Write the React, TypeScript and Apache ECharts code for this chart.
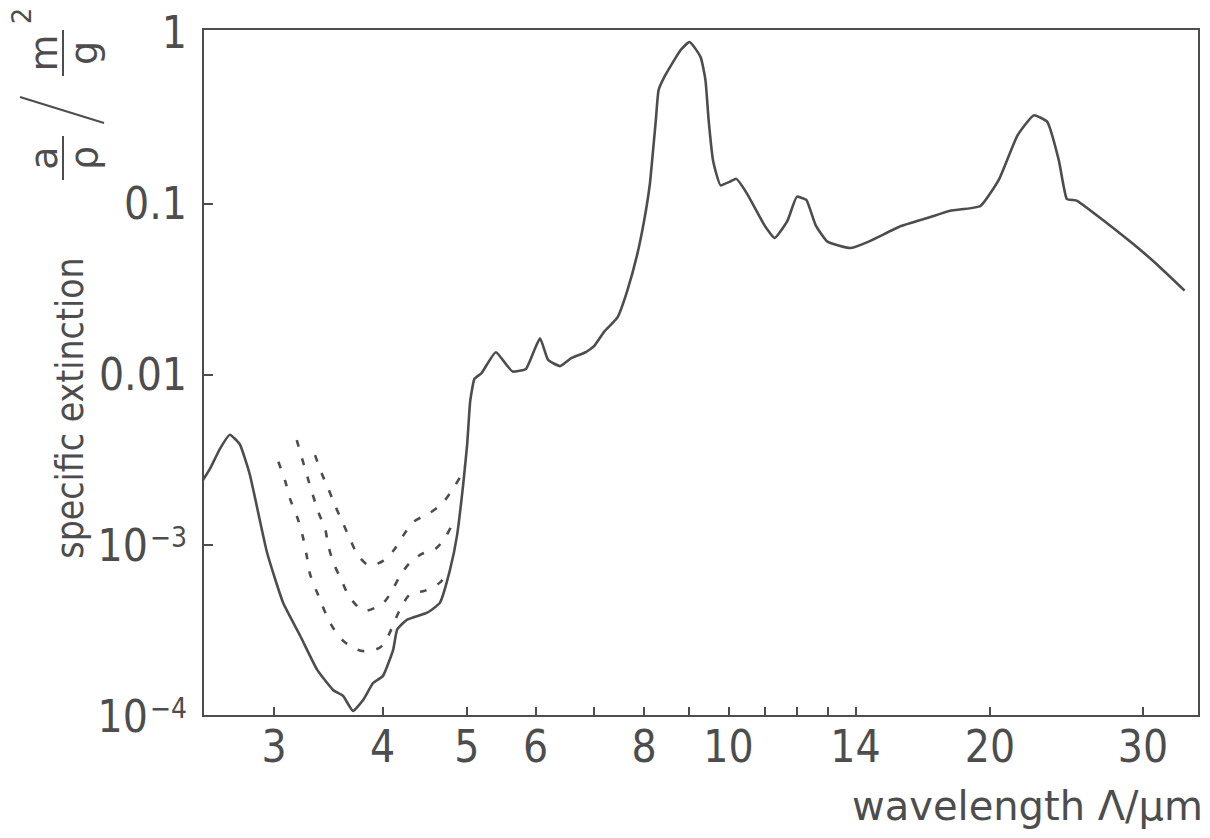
import React, { useEffect, useRef } from 'react';
import * as echarts from 'echarts';

// solid curve: wavelength (µm) and specific extinction (m^2/g)
const solidWavelength = [2.485, 2.531, 2.599, 2.669, 2.741, 2.814, 2.944, 3.072, 3.214, 3.362, 3.508, 3.602, 3.699, 3.798, 3.9, 4.005, 4.113, 4.157, 4.269, 4.501, 4.658, 4.783, 4.873, 4.951, 5.004, 5.044, 5.1, 5.2, 5.4, 5.65, 5.85, 6.0, 6.07, 6.2, 6.4, 6.6, 6.85, 7.0, 7.2, 7.45, 7.65, 7.85, 8.0, 8.12, 8.2, 8.25, 8.31, 8.46, 8.69, 8.81, 9.02, 9.29, 9.41, 9.49, 9.6, 9.8, 10.05, 10.2, 10.5, 11.0, 11.3, 11.7, 12.0, 12.3, 12.6, 13.0, 13.8, 14.5, 15.8, 17.0, 18.0, 19.5, 20.5, 21.5, 22.5, 23.3, 24.0, 24.5, 25.2, 27, 29, 31, 33.5];
const solidExtinction = [0.00241, 0.0028, 0.00367, 0.00444, 0.00388, 0.00258, 0.00091, 0.000462, 0.000296, 0.000187, 0.000142, 0.000131, 0.000107, 0.000124, 0.000156, 0.000172, 0.000244, 0.000321, 0.000367, 0.000403, 0.000462, 0.000722, 0.00115, 0.00225, 0.00388, 0.00694, 0.0094, 0.0102, 0.0135, 0.0104, 0.0108, 0.0145, 0.0163, 0.0122, 0.0112, 0.0125, 0.0135, 0.0146, 0.0179, 0.0215, 0.031, 0.05, 0.08, 0.13, 0.22, 0.308, 0.462, 0.566, 0.713, 0.794, 0.885, 0.722, 0.529, 0.308, 0.18, 0.128, 0.135, 0.14, 0.115, 0.075, 0.063, 0.08, 0.11, 0.105, 0.075, 0.06, 0.055, 0.06, 0.074, 0.083, 0.091, 0.097, 0.14, 0.25, 0.33, 0.3, 0.18, 0.107, 0.104, 0.08, 0.06, 0.045, 0.031];

// dashed curves
const dashedLowWavelength = [3.034, 3.088, 3.13, 3.199, 3.242, 3.271, 3.3, 3.374, 3.48, 3.605, 3.802, 3.992, 4.191, 4.303, 4.477, 4.658, 4.763];
const dashedLowExtinction = [0.00308, 0.0024, 0.00187, 0.0014, 0.00109, 0.000869, 0.000678, 0.000506, 0.000352, 0.000275, 0.00024, 0.000257, 0.000422, 0.000517, 0.000542, 0.000606, 0.00071];
const dashedMidWavelength = [3.186, 3.286, 3.374, 3.434, 3.464, 3.51, 3.589, 3.668, 3.818, 4.009, 4.099, 4.191, 4.303, 4.439, 4.598, 4.721, 4.827];
const dashedMidExtinction = [0.00413, 0.0024, 0.00156, 0.00125, 0.000996, 0.000794, 0.00062, 0.000494, 0.000413, 0.000462, 0.000542, 0.000664, 0.000794, 0.000889, 0.000951, 0.00111, 0.00137];
const dashedHighWavelength = [3.344, 3.404, 3.464, 3.526, 3.605, 3.668, 3.75, 3.87, 4.009, 4.117, 4.21, 4.34, 4.518, 4.68, 4.807, 4.912, 4.975];
const dashedHighExtinction = [0.00337, 0.00263, 0.00214, 0.00171, 0.00133, 0.00109, 0.000869, 0.00076, 0.000813, 0.000931, 0.00111, 0.00137, 0.00153, 0.00175, 0.0021, 0.00251, 0.0029];

// axes
const xTickValues = [3, 4, 5, 6, 7, 8, 9, 10, 11, 12, 13, 14, 20, 30];
const xLabelValues = [3, 4, 5, 6, 8, 10, 14, 20, 30];
const yTickValues = [0.1, 0.01, 0.001];
const yLabelValues = [1, 0.1, 0.01, 0.001, 0.0001];
const yLabelTexts = ['1', '0.1', '0.01', '10|-3', '10|-4'];
const xRange = [2.485, 34.8];
const yRange = [0.0001, 1.055];

const INK = '#4d4d4d';
const NUM_FONT = "'Liberation Sans Narrow', 'DejaVu Sans Condensed', 'Liberation Sans', sans-serif";
const TXT_FONT = "'DejaVu Sans', sans-serif";
const TITLE_FONT = "'DejaVu Sans Condensed', 'DejaVu Sans', sans-serif";

const L = Math.log10;
const pairs = (xs: number[], ys: number[]) => xs.map((x, i) => [L(x), L(ys[i])]);

export default function App() {
  const ref = useRef<HTMLDivElement>(null);
  useEffect(() => {
    const chart = echarts.init(ref.current!, null, { renderer: 'svg' });
    const yLabelFor = (v: number) => {
      const idx = yLabelValues.findIndex((y) => Math.abs(L(y) - v) < 1e-6);
      const t = idx >= 0 ? yLabelTexts[idx] : '';
      if (t.includes('|')) {
        const [b, s] = t.split('|');
        return `{b|${b}}{s|${s.replace('-', '\u2212')}}`;
      }
      return t;
    };
    const rot = (text: string, x: number, y: number, size: number, font = TXT_FONT) => ({
      type: 'text', x, y, rotation: Math.PI / 2,
      style: { text, fontSize: size, fontFamily: font, fill: INK, align: 'center', verticalAlign: 'middle' },
    });
    const ln = (x1: number, y1: number, x2: number, y2: number) => ({
      type: 'line', shape: { x1, y1, x2, y2 }, style: { stroke: INK, lineWidth: 2 },
    });
    chart.setOption({
      animation: false,
      backgroundColor: '#ffffff',
      grid: { left: 203, right: 11, top: 29, bottom: 122, show: true, borderColor: INK, borderWidth: 2 },
      xAxis: {
        type: 'value',
        min: L(xRange[0]),
        max: L(xRange[1]),
        axisLine: { show: true, onZero: false, lineStyle: { color: INK, width: 2 } },
        axisTick: { show: true, inside: true, length: 9, customValues: xTickValues.map(L), lineStyle: { color: INK, width: 2 } },
        axisLabel: {
          customValues: xLabelValues.map(L),
          formatter: (v: number) => String(Math.round(Math.pow(10, v))),
          color: INK, fontFamily: NUM_FONT, fontSize: 44, margin: 8,
        },
        splitLine: { show: false },
      },
      yAxis: {
        type: 'value',
        min: L(yRange[0]),
        max: L(yRange[1]),
        axisLine: { show: true, onZero: false, lineStyle: { color: INK, width: 2 } },
        axisTick: { show: true, inside: true, length: 10, customValues: yTickValues.map(L), lineStyle: { color: INK, width: 2 } },
        axisLabel: {
          customValues: yLabelValues.map(L),
          formatter: yLabelFor,
          color: INK, fontFamily: NUM_FONT, fontSize: 44, margin: 16,
          rich: {
            b: { fontSize: 44, fontFamily: NUM_FONT, color: INK },
            s: { fontSize: 28, fontFamily: NUM_FONT, color: INK, verticalAlign: 'top', padding: [0, 0, 14, 2] },
          },
        },
        splitLine: { show: false },
      },
      series: [
        {
          type: 'line', data: pairs(solidWavelength, solidExtinction), showSymbol: false, smooth: 0.15,
          lineStyle: { color: INK, width: 2.6 },
        },
        {
          type: 'line', data: pairs(dashedLowWavelength, dashedLowExtinction), showSymbol: false, smooth: 0.3,
          lineStyle: { color: INK, width: 2.6, type: [7, 12] },
        },
        {
          type: 'line', data: pairs(dashedMidWavelength, dashedMidExtinction), showSymbol: false, smooth: 0.3,
          lineStyle: { color: INK, width: 2.6, type: [7, 12] },
        },
        {
          type: 'line', data: pairs(dashedHighWavelength, dashedHighExtinction), showSymbol: false, smooth: 0.3,
          lineStyle: { color: INK, width: 2.6, type: [7, 12] },
        },
      ],
      graphic: [
        {
          type: 'text', x: 1203, y: 826,
          style: { text: 'wavelength \u039b/\u03bcm', fontSize: 40, fontFamily: TXT_FONT, fill: INK, align: 'right', verticalAlign: 'bottom' },
        },
        rot('specific extinction', 70, 408, 37, TITLE_FONT),
        rot('a', 44, 158, 38),
        ln(63, 136, 63, 180),
        rot('\u03c1', 84, 158, 38),
        ln(104, 123, 20, 97),
        rot('m', 44, 53, 38),
        ln(63, 30, 63, 76),
        rot('g', 84, 53, 38),
        rot('2', 22, 16, 26),
      ],
    });
    return () => chart.dispose();
  }, []);
  return <div ref={ref} style={{ position: 'fixed', left: 0, top: 0, width: 1210, height: 838 }} />;
}
